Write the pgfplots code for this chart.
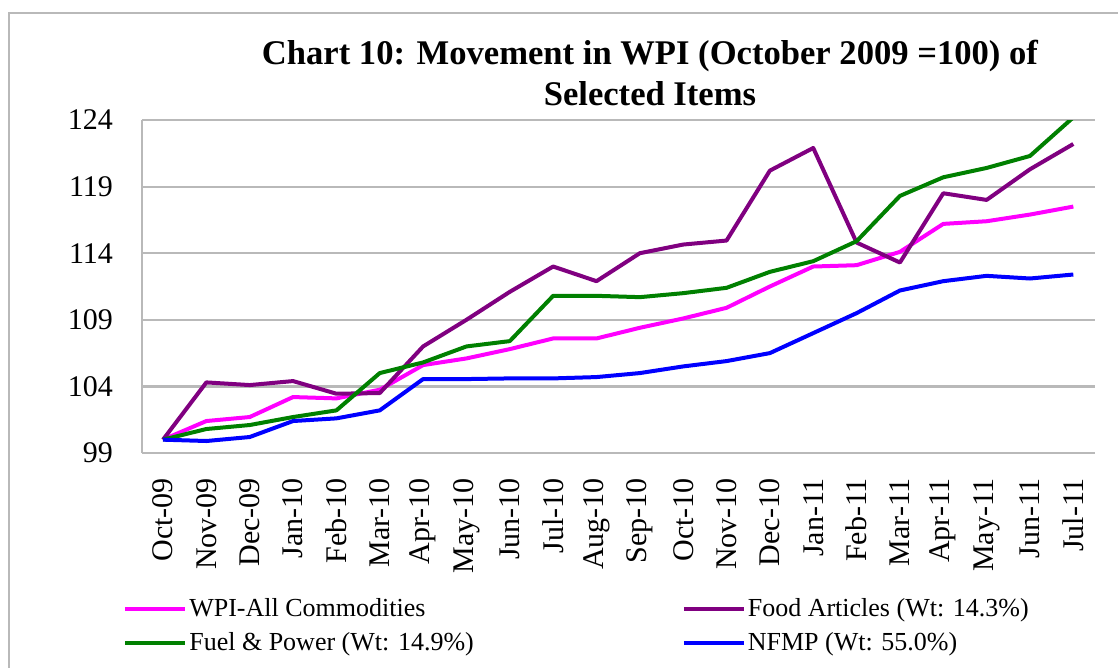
\documentclass[border=0pt]{standalone}
\usepackage{pgfplots}
\pgfplotsset{compat=1.18}
\usepackage{pgfplotstable}
\usepackage{fontspec}
\setmainfont{Liberation Serif}
\definecolor{wpi}{RGB}{255,0,255}
\definecolor{food}{RGB}{128,0,128}
\definecolor{fuel}{RGB}{0,128,0}
\definecolor{nfmp}{RGB}{0,0,255}
\definecolor{gridc}{RGB}{185,185,185}
\pgfplotstableread{
x wpi food fuel nfmp
0 100 100 100 100
1 101.4 104.3 100.8 99.9
2 101.7 104.1 101.1 100.2
3 103.2 104.4 101.7 101.4
4 103.1 103.45 102.2 101.6
5 103.75 103.5 105.0 102.2
6 105.6 107.0 105.8 104.55
7 106.1 109.0 107.0 104.55
8 106.8 111.1 107.4 104.6
9 107.6 113.0 110.8 104.6
10 107.6 111.9 110.8 104.7
11 108.4 114.0 110.7 105.0
12 109.1 114.65 111.0 105.5
13 109.9 114.95 111.4 105.9
14 111.5 120.2 112.6 106.5
15 113.0 121.9 113.4 108.0
16 113.1 114.8 114.9 109.5
17 114.1 113.3 118.3 111.2
18 116.2 118.5 119.7 111.9
19 116.4 118.0 120.4 112.3
20 116.9 120.3 121.3 112.1
21 117.5 122.2 124.2 112.4
}\datatable
\begin{document}
\begin{tikzpicture}
\useasboundingbox (-71pt,-107.5pt) rectangle (488pt,226.5pt);
\draw[gridc, line width=1.2pt] (-66.5pt,-110pt) -- (-66.5pt,220pt) -- (490pt,220pt);
\begin{axis}[
  scale only axis,
  width=476.5pt, height=166.5pt,
  xmin=-0.485, xmax=21.5,
  ymin=99, ymax=124,
  ytick={99,104,...,124},
  xtick={0,...,21},
  xticklabels={Oct-09,Nov-09,Dec-09,Jan-10,Feb-10,Mar-10,Apr-10,May-10,Jun-10,Jul-10,Aug-10,Sep-10,Oct-10,Nov-10,Dec-10,Jan-11,Feb-11,Mar-11,Apr-11,May-11,Jun-11,Jul-11},
  xticklabel style={rotate=90, anchor=east, font=\fontsize{15}{17}\selectfont, xshift=-9pt},
  yticklabel style={font=\fontsize{15}{17}\selectfont, xshift=-11pt},
  /pgf/number format/assume math mode=true,
  ymajorgrids,
  grid style={gridc, line width=1.1pt},
  major tick length=0pt,
  axis lines*=left,
  x axis line style={draw=none},
  y axis line style={gridc, line width=0.8pt, -},
  title={Chart 10: Movement in WPI (October 2009 =100) of\\Selected Items},
  title style={align=center, font=\bfseries\fontsize{17.3}{20.5}\selectfont, at={(rel axis cs:0.533,1.105)}, anchor=center},
  legend columns=2,
  legend cell align=left,
  legend image code/.code={\draw[#1] (0pt,0pt) -- (30pt,0pt);},
  legend style={draw=none, fill=none, inner sep=0pt, at={(rel axis cs:-0.02,-0.43)}, anchor=north west,
    font=\fontsize{13}{15}\selectfont, nodes={inner sep=1pt}, row sep=4.5pt,
    /tikz/every even column/.append style={column sep=103pt}},
  every axis plot/.append style={line width=2pt, line join=round},
]
\addplot[wpi, no markers] table[x=x, y=wpi] {\datatable};
\addlegendentry{WPI-All Commodities}
\addplot[food, no markers] table[x=x, y=food] {\datatable};
\addlegendentry{Food Articles (Wt: 14.3\%)}
\addplot[fuel, no markers] table[x=x, y=fuel] {\datatable};
\addlegendentry{Fuel \& Power (Wt: 14.9\%)}
\addplot[nfmp, no markers] table[x=x, y=nfmp] {\datatable};
\addlegendentry{NFMP (Wt: 55.0\%)}
\end{axis}
\end{tikzpicture}
\end{document}
